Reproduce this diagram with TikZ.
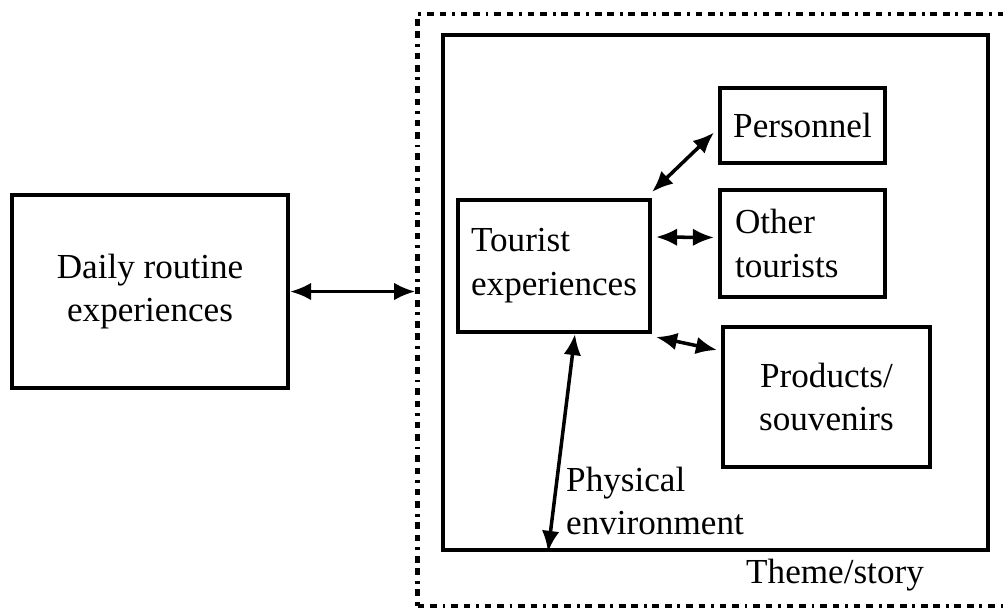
\documentclass[tikz,border=0pt]{standalone}
\usepackage{fontspec}
\setmainfont{Liberation Serif}
\usetikzlibrary{calc,arrows.meta}

\begin{document}
\begin{tikzpicture}[x=0.02cm, y=-0.02cm,
		box/.style={draw, line width=2.3pt, inner sep=0pt, font=\fontsize{20}{25}\selectfont},
		link/.style={{Latex[length=12pt,width=10pt]}-{Latex[length=12pt,width=10pt]}, line width=2pt}]
			\useasboundingbox (0,0) rectangle (1003,610);
			\node[box, minimum width=5.52cm, minimum height=3.86cm, align=center] (daily) at (150,291.5) {Daily routine\\experiences};
			\node[draw, line width=2.6pt, dash pattern=on 3.8pt off 3.3pt on 3.8pt off 3.3pt on 1.6pt off 3.3pt, minimum width=11.82cm, minimum height=11.84cm] (theme) at (713,310) {};
			\node[box, minimum width=10.9cm, minimum height=10.3cm] (inner) at (715.5,292.5) {};
			\node[box, minimum width=3.84cm, minimum height=2.64cm, align=left] (tourist) at (554,266) {Tourist\\experiences};
			\node[box, minimum width=3.3cm, minimum height=1.5cm] (personnel) at (802.5,125.5) {Personnel};
			\node[box, minimum width=3.3cm, minimum height=2.14cm, align=left, text width=2.7cm] (other) at (802.5,243.5) {Other\\tourists};
			\node[box, minimum width=4.14cm, minimum height=2.8cm, align=center] (products) at (826.5,397) {Products/\\souvenirs};
			\node[anchor=west, align=left, font=\fontsize{20}{25}\selectfont] (physical) at (560,501) {Physical\\environment};
			\node[font=\fontsize{20}{25}\selectfont] (story) at (835,575) {Theme/story};
			\draw[link] (daily.east) -- (daily.east -| theme.west);
			\draw[link] ($(tourist.north east)+(0,-6)$) -- ($(personnel.west)+(-4,7)$);
			\draw[link] ($(tourist.east)+(4,-29)$) -- ($(other.west)+(-4,-6)$);
			\draw[link] ($(tourist.south east)+(4,3)$) -- ($(products.north west)+(-4,25)$);
			\draw[link] ($(tourist.south)+(21,0)$) -- ($(tourist.south |- inner.south)+(-6,0)$);
		\end{tikzpicture}
\end{document}
